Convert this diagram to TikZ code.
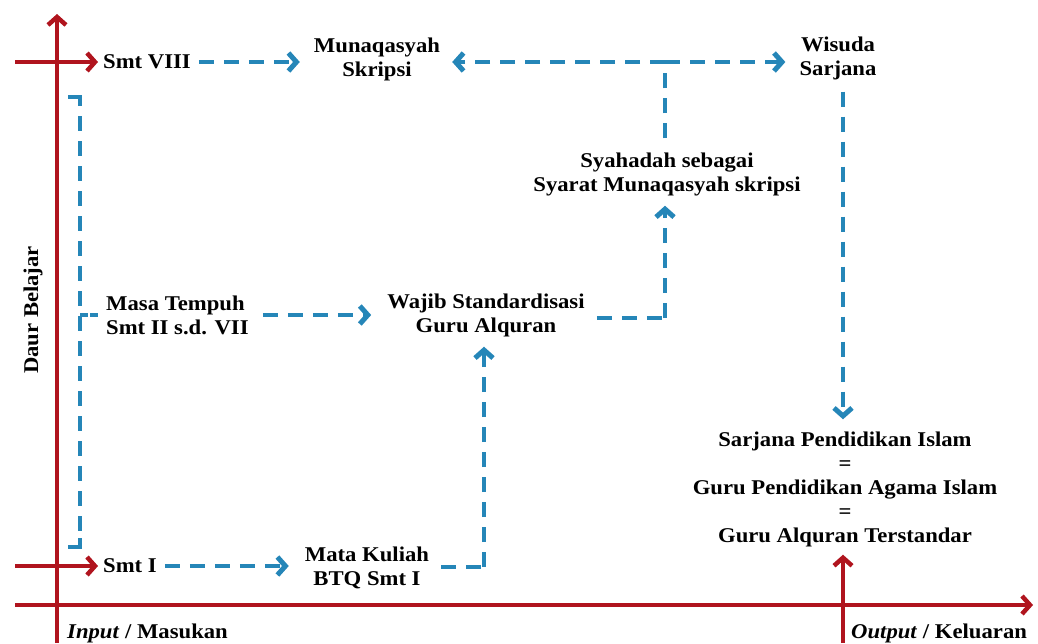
\documentclass[tikz,border=0pt]{standalone}
\usepackage{fontspec}
\setmainfont{Liberation Serif}[FakeStretch=1.08]
\usetikzlibrary{arrows.meta}
\definecolor{axred}{HTML}{B0141E}
\definecolor{flowblue}{HTML}{2586B8}
\tikzset{
  lbl/.style={inner sep=0pt, align=center, font=\fontsize{21}{24}\selectfont\bfseries},
  axis/.style={draw=axred, line width=4pt, -{Straight Barb[length=8pt,width=18pt,line width=4.5pt]}},
  flow/.style={draw=flowblue, line width=3.5pt, dash pattern=on 15pt off 10pt},
  flowar/.style={flow, -{Straight Barb[length=8pt,width=18pt,line width=5pt]}},
  tick/.style={draw=flowblue, line width=3.5pt},
}
\begin{document}
\begin{tikzpicture}[x=1pt,y=-1pt]
\useasboundingbox (0,0) rectangle (1038,643);
% labels
\node[lbl, anchor=west] (m8) at (103,62) {Smt VIII};
\node[lbl] (mun) at (377,59) {Munaqasyah\\Skripsi};
\node[lbl] (wis) at (838,58) {Wisuda\\Sarjana};
\node[lbl] (syah) at (667,174) {Syahadah sebagai\\Syarat Munaqasyah skripsi};
\node[lbl, anchor=west, align=left] (masa) at (106,315) {Masa Tempuh\\Smt II s.d. VII};
\node[lbl] (wajib) at (486,315) {Wajib Standardisasi\\Guru Alquran};
\node[lbl, anchor=west] (m1) at (103,566) {Smt I};
\node[lbl] (mata) at (367,568) {Mata Kuliah\\BTQ Smt I};
\node[lbl] (sarj) at (845,489) {Sarjana Pendidikan Islam\\=\\Guru Pendidikan Agama Islam\\=\\Guru Alquran Terstandar};
\node[lbl, rotate=90] (daur) at (33,310) {Daur Belajar};
\node[lbl, anchor=west] (inp) at (67,633) {\itshape Input\/ \upshape / Masukan};
\node[lbl, anchor=west] (outp) at (851,633) {\itshape Output\/ \upshape / Keluaran};
% coordinates
\coordinate (vb) at (57,643);
\coordinate (vt) at (57,14);
\coordinate (hl) at (15,605);
\coordinate (hr) at (1033,605);
\coordinate (r8) at (15,62);
\coordinate (r1) at (15,566);
\coordinate (ob) at (843,643);
\coordinate (j1) at (665,62);
\coordinate (j2) at (665,318);
\coordinate (j3) at (484,567);
% red axes
\draw[axis] (vb) -- (vt);
\draw[axis] (hl) -- (hr);
\draw[axis, shorten >=5pt] (r8) -- (m8.west);
\draw[axis, shorten >=5pt] (r1) -- (m1.west);
\draw[axis, shorten >=8pt] (ob) -- (sarj.south -| ob);
% blue flow
\draw[flowar, shorten <=8pt, shorten >=14pt] (m8.east) -- (mun.west |- m8.east);
\draw[flow] (syah.north) ++(-2,-14) -- (j1);
\draw[flowar, shorten >=12pt] (j1) -- (mun.east |- j1);
\draw[flowar, shorten >=14pt] (j1) -- (wis.west |- j1);
\draw[flowar, shorten <=12pt, shorten >=12pt] (wis.south -| 843,0) -- (sarj.north -| 843,0);
% bracket on the left
\draw[tick] (68,97) -- (80,97) -- (80,106);
\draw[flow] (80,116) -- (80,535);
\draw[tick] (80,538) -- (80,547) -- (68,547);
\draw[tick] (80,315) -- (88,315);
\draw[flow, dash pattern=on 8pt off 100pt] (90,315) -- (masa.west);
\draw[flowar, shorten <=14pt, shorten >=16pt] (masa.east) -- (wajib.west);
\draw[flow, shorten <=12pt] (wajib.east |- j2) -- (j2);
\draw[flowar, shorten >=10pt] (j2) -- (syah.south -| j2);
\draw[flowar, shorten <=8pt, shorten >=16pt] (m1.east) -- (mata.west |- m1.east);
\draw[flow, shorten <=12pt] (mata.east |- j3) -- (j3);
\draw[flowar, shorten >=10pt] (j3) -- (wajib.south -| j3);
\end{tikzpicture}
\end{document}
